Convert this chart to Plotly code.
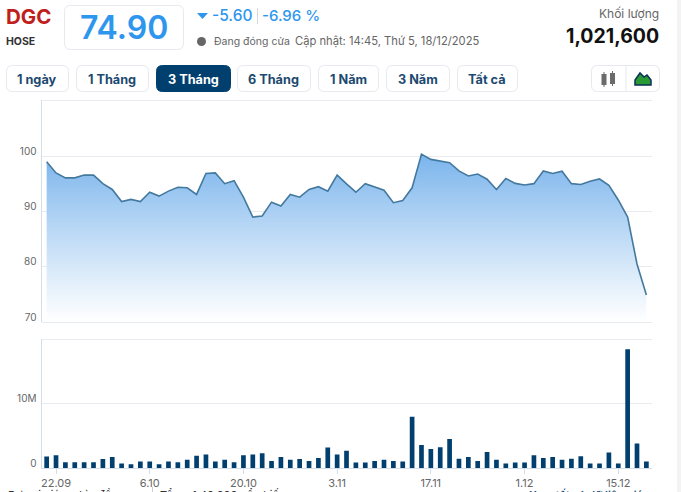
import plotly.graph_objects as go

# values, oldest session first
price = [99.0, 97.0, 96.1, 96.1, 96.6, 96.6, 95.05, 94.0, 91.8, 92.2, 91.8, 93.5, 92.8, 93.7, 94.4, 94.3,
         93.1, 96.9, 97.0, 95.05, 95.6, 92.6, 89.0, 89.2, 91.7, 91.0, 93.1, 92.6, 94.0, 94.5, 93.7, 96.6,
         95.0, 93.5, 95.05, 94.4, 93.85, 91.6, 92.0, 94.3, 100.4, 99.45, 99.2, 98.85, 97.35, 96.45, 96.8, 95.85,
         94.0, 96.0, 95.1, 94.8, 95.05, 97.35, 96.9, 97.3, 95.05, 94.9, 95.5, 95.9, 94.75, 92.1, 89.0, 80.5, 74.9]
volume = [1.8, 2.0, 0.9, 0.9, 0.9, 0.9, 1.4, 1.7, 0.7, 0.6, 1.0, 1.0, 0.6, 1.0, 0.9, 1.3,
          1.9, 2.1, 1.0, 1.3, 0.9, 2.0, 2.1, 2.3, 1.1, 1.7, 1.3, 1.4, 1.1, 1.55, 3.2, 2.1,
          2.7, 0.85, 0.85, 1.1, 1.3, 1.1, 1.0, 8.0, 3.6, 2.95, 3.25, 4.5, 1.45, 1.7, 1.1, 2.5,
          1.3, 0.7, 0.85, 0.85, 2.0, 1.55, 1.7, 1.3, 1.45, 1.85, 0.7, 0.7, 2.4, 0.7, 18.5, 3.8, 1.0216]
sessions = list(range(len(price)))
baseline = [70] * len(price)

date_ticks = [1, 11, 21, 31, 41, 51, 61]
date_labels = ["22.09", "6.10", "20.10", "3.11", "17.11", "1.12", "15.12"]
price_ticks = [70, 80, 90, 100]
volume_ticks = [0, 10]
volume_labels = ["0", "10M"]

ranges = ["1 ngày", "1 Tháng", "3 Tháng", "6 Tháng", "1 Năm", "3 Năm", "Tất cả"]
range_lefts = [6, 76, 156, 237, 318, 386, 457]
range_rights = [68, 148, 230, 310, 378, 449, 517]

W, H = 681, 492
NAVY = "#003f6e"
BLUE = "#2f96ee"
GRID = "#e8ebf0"
AXIS = "#d5dde8"
FONT = "Inter"


def px(x):
    return x / W


def py(y):
    return 1 - y / H


def add_text(fig, x, y, text, size, color, anchor="left", weight=400):
    fig.add_annotation(
        xref="paper", yref="paper", x=px(x), y=py(y), text=text, showarrow=False,
        xanchor=anchor, yanchor="middle", align=anchor,
        font=dict(family=FONT, size=size, color=color, weight=weight),
    )


def add_box(fig, x0, y0, x1, y1, fill="#ffffff", line="#e6e9ee", r=6):
    # rounded rectangle drawn as an svg path in pixel-derived paper coords
    path = (f"M {px(x0 + r)} {py(y0)} L {px(x1 - r)} {py(y0)} "
            f"Q {px(x1)} {py(y0)} {px(x1)} {py(y0 + r)} L {px(x1)} {py(y1 - r)} "
            f"Q {px(x1)} {py(y1)} {px(x1 - r)} {py(y1)} L {px(x0 + r)} {py(y1)} "
            f"Q {px(x0)} {py(y1)} {px(x0)} {py(y1 - r)} L {px(x0)} {py(y0 + r)} "
            f"Q {px(x0)} {py(y0)} {px(x0 + r)} {py(y0)} Z")
    fig.add_shape(type="path", path=path, xref="paper", yref="paper",
                  fillcolor=fill, line=dict(color=line, width=1), layer="below")


fig = go.Figure()

fig.add_trace(go.Scatter(x=sessions, y=baseline, mode="lines", line=dict(width=0),
                         hoverinfo="skip", showlegend=False, xaxis="x", yaxis="y"))
fig.add_trace(go.Scatter(
    x=sessions, y=price, mode="lines", fill="tonexty",
    line=dict(color="#44799f", width=1.6),
    fillgradient=dict(type="vertical", colorscale=[[0, "rgba(255,255,255,0.9)"], [1, "rgba(122,180,236,1)"]]),
    showlegend=False, xaxis="x", yaxis="y",
))
fig.add_trace(go.Bar(x=sessions, y=volume, marker=dict(color=NAVY, line=dict(width=0)),
                     width=0.5, showlegend=False, xaxis="x2", yaxis="y2"))

x_range = [-0.55, 64.6]
fig.update_layout(
    width=W, height=H,
    margin=dict(l=0, r=0, t=0, b=0),
    autosize=False,
    paper_bgcolor="#ffffff",
    plot_bgcolor="rgba(0,0,0,0)",
    bargap=0.5,
    xaxis=dict(domain=[px(41.5), px(652)], range=x_range, showgrid=False, zeroline=False, automargin=False,
               showticklabels=False, showline=False, anchor="y"),
    yaxis=dict(domain=[py(322), py(100)], range=[70, 110.2], tickvals=price_ticks, gridcolor=GRID,
               zeroline=False, showline=True, linecolor=AXIS, ticks="", ticklen=0, automargin=False,
               ticklabelposition="outside top", ticklabelshift=2, ticklabelstandoff=2,
               tickfont=dict(family=FONT, size=10, color="#666666"), anchor="x"),
    xaxis2=dict(domain=[px(41.5), px(652)], range=x_range, tickvals=date_ticks, ticktext=date_labels,
                showgrid=False, zeroline=False, showline=True, linecolor=AXIS, ticks="outside", automargin=False,
                ticklen=5, tickcolor=AXIS, tickfont=dict(family=FONT, size=11, color="#666666"), anchor="y2"),
    yaxis2=dict(domain=[py(468), py(339)], range=[0, 20.1], tickvals=volume_ticks, ticktext=volume_labels,
                gridcolor=GRID, zeroline=False, showline=True, linecolor=AXIS, automargin=False,
                ticklabelposition="outside top", ticklabelshift=2, ticklabelstandoff=2,
                tickfont=dict(family=FONT, size=10, color="#666666"), anchor="x2"),
)

# top edges of both panes
for edge in [100.5, 339.5, 322.5]:
    fig.add_shape(type="line", xref="paper", yref="paper", x0=px(41.5), x1=px(652), y0=py(edge), y1=py(edge),
                  line=dict(color=GRID, width=1), layer="below")

# page scrollbar track on the right
fig.add_shape(type="rect", xref="paper", yref="paper", x0=px(677), x1=1, y0=0, y1=1,
              fillcolor="#f3f3f4", line=dict(width=0))

# header
add_text(fig, 4, 17, "DGC", 20.5, "#c0201c", weight=700)
add_text(fig, 4, 42, "HOSE", 10.5, "#333333", weight=700)
add_box(fig, 64.5, 5.5, 183.5, 49.5)
add_text(fig, 124, 27, "74.90", 32, BLUE, anchor="center", weight=600)
fig.add_shape(type="path", xref="paper", yref="paper", fillcolor=BLUE, line=dict(width=0),
              path=f"M {px(197)} {py(13)} L {px(208)} {py(13)} L {px(202.5)} {py(19)} Z")
add_text(fig, 210, 16, "-5.60", 15.5, BLUE, weight=500)
fig.add_shape(type="line", xref="paper", yref="paper", x0=px(257.5), x1=px(257.5), y0=py(8), y1=py(24),
              line=dict(color="#d5d9de", width=1))
add_text(fig, 260, 16, "-6.96 %", 15, BLUE, weight=500)
fig.add_shape(type="circle", xref="paper", yref="paper", x0=px(197), x1=px(206), y0=py(37), y1=py(46),
              fillcolor="#666666", line=dict(width=0))
add_text(fig, 212, 42, "Đang đóng cửa", 10.5, "#666666")
add_text(fig, 293, 41, "Cập nhật: 14:45, Thứ 5, 18/12/2025", 11.2, "#666666")
add_text(fig, 661, 14, "Khối lượng", 12, "#666666", anchor="right")
add_text(fig, 661, 36, "1,021,600", 19.5, "#111111", anchor="right", weight=700)

# range buttons
for label, left, right in zip(ranges, range_lefts, range_rights):
    active = label == "3 Tháng"
    add_box(fig, left + 0.5, 65.5, right + 0.5, 91.5, fill=NAVY if active else "#ffffff",
            line=NAVY if active else "#e6e9ee")
    add_text(fig, (left + right) / 2, 79, label, 12.7, "#ffffff" if active else "#1d4a70",
             anchor="center", weight=700)

# chart type toggle
add_box(fig, 591.5, 65.5, 659.5, 91.5)
fig.add_shape(type="line", xref="paper", yref="paper", x0=px(626), x1=px(626), y0=py(66), y1=py(91),
              line=dict(color="#e6e9ee", width=1))
for cx, top, bottom in [(604, 74, 85), (612.5, 73, 84)]:
    fig.add_shape(type="line", xref="paper", yref="paper", x0=px(cx), x1=px(cx), y0=py(top - 2), y1=py(bottom + 2),
                  line=dict(color="#6b6b6b", width=1))
    fig.add_shape(type="rect", xref="paper", yref="paper", x0=px(cx - 2.5), x1=px(cx + 2.5), y0=py(top), y1=py(bottom),
                  fillcolor="#6b6b6b", line=dict(width=0))
fig.add_shape(type="path", xref="paper", yref="paper", fillcolor="#2a9a34", line=dict(color="#0b2f55", width=1.5),
              path=(f"M {px(635)} {py(85)} L {px(635)} {py(80)} L {px(640)} {py(73)} L {px(644)} {py(77)} "
                    f"L {px(647)} {py(75)} L {px(651)} {py(80)} L {px(651)} {py(85)} Z"))

# footer row, cut off by the window in the reference
add_text(fig, 6, 495, "Đơn vị giá: nghìn đồng", 11, "#333333")
fig.add_shape(type="line", xref="paper", yref="paper", x0=px(152.5), x1=px(152.5), y0=py(487), y1=0,
              line=dict(color="#c9ced4", width=1))
add_text(fig, 158, 495, "Tổng: 1.40.000 cổ phiếu", 11, "#333333")
add_text(fig, 645, 495, "Xem tất cả dữ liệu giá", 11, "#1d4a70", anchor="right", weight=600)

# drop the default body margin so the figure sits at the window's corner
fig.write_html("out.html", config=dict(displayModeBar=False),
               post_script="document.body.style.margin='0';document.body.style.overflow='hidden';")
